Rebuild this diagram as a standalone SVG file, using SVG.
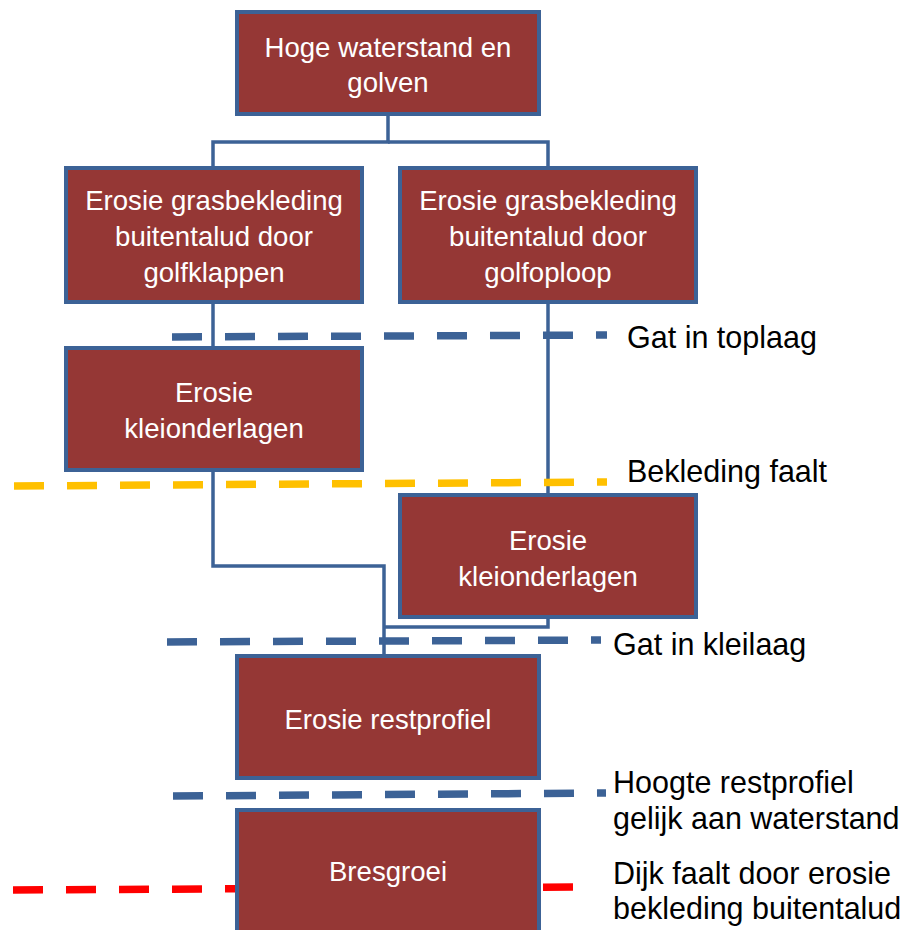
<svg xmlns="http://www.w3.org/2000/svg" width="906" height="930" viewBox="0 0 906 930">
<style>
.box{fill:#953735;stroke:#3C6296;stroke-width:4}
.bt{font-family:"Liberation Sans",Arial,sans-serif;font-size:27.6px;fill:#ffffff;text-anchor:middle}
.lt{font-family:"Liberation Sans",Arial,sans-serif;font-size:30.5px;fill:#000000}
.con{fill:none;stroke:#3C6296;stroke-width:3.5}
.dash{fill:none;stroke-width:7.5;stroke-dasharray:30 23}
.blue{stroke:#3C6296}
.yellow{stroke:#FFC000}
.red{stroke:#FF0000}
</style>
<rect width="906" height="930" fill="#ffffff"/>
<g id="connectors">
<polyline class="con" points="388,114 388,142 213,142 213,168"/>
<polyline class="con" points="388,142 548,142 548,168"/>
<line class="con" x1="213" y1="302" x2="213" y2="348"/>
<line class="con" x1="548" y1="302" x2="548" y2="495"/>
<polyline class="con" points="213,470 213,566 384,566 384,656"/>
<polyline class="con" points="548,617 548,627 384,627"/>
</g>
<g id="levels">
<line class="dash blue" x1="172" y1="337" x2="607" y2="335"/>
<line class="dash yellow" x1="14" y1="486" x2="607" y2="482"/>
<line class="dash blue" x1="167" y1="642" x2="601" y2="640"/>
<line class="dash blue" x1="173" y1="796" x2="606" y2="793"/>
<line class="dash red" x1="13" y1="890" x2="575" y2="887"/>
</g>
<g id="n1"><rect class="box" x="237" y="12" width="302" height="102"/>
<text class="bt" x="388" y="57">Hoge waterstand en</text><text class="bt" x="388" y="92">golven</text></g>
<g id="n2"><rect class="box" x="66" y="168" width="296" height="134"/>
<text class="bt" x="214" y="210">Erosie grasbekleding</text><text class="bt" x="214" y="246">buitentalud door</text><text class="bt" x="214" y="282">golfklappen</text></g>
<g id="n3"><rect class="box" x="400" y="168" width="296" height="134"/>
<text class="bt" x="548" y="210">Erosie grasbekleding</text><text class="bt" x="548" y="246">buitentalud door</text><text class="bt" x="548" y="282">golfoploop</text></g>
<g id="n4"><rect class="box" x="66" y="348" width="296" height="122"/>
<text class="bt" x="214" y="402">Erosie</text><text class="bt" x="214" y="438">kleionderlagen</text></g>
<g id="n5"><rect class="box" x="400" y="495" width="296" height="122"/>
<text class="bt" x="548" y="550">Erosie</text><text class="bt" x="548" y="586">kleionderlagen</text></g>
<g id="n6"><rect class="box" x="237" y="656" width="302" height="122"/>
<text class="bt" x="388" y="729">Erosie restprofiel</text></g>
<g id="n7"><rect class="box" x="237" y="810" width="302" height="130"/>
<text class="bt" x="388" y="881">Bresgroei</text></g>
<g id="labels">
<text class="lt" x="627" y="348">Gat in toplaag</text>
<text class="lt" x="627" y="482">Bekleding faalt</text>
<text class="lt" x="613" y="655">Gat in kleilaag</text>
<text class="lt" x="613" y="793">Hoogte restprofiel</text>
<text class="lt" x="613" y="829">gelijk aan waterstand</text>
<text class="lt" x="613" y="884">Dijk faalt door erosie</text>
<text class="lt" x="613" y="919">bekleding buitentalud</text>
</g>
</svg>
